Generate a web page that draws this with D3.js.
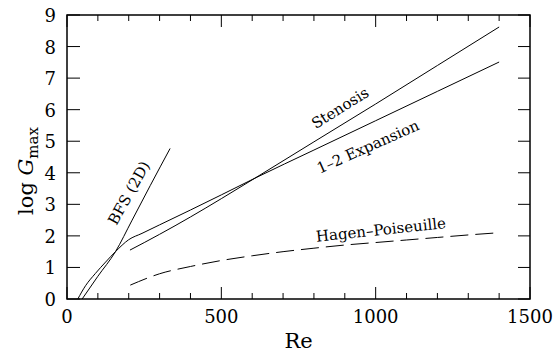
<!DOCTYPE html>
<html><head><meta charset="utf-8">
<script src="https://cdn.jsdelivr.net/npm/d3@7"></script>
<style>body{margin:0;background:#fff}svg{display:block}text{font-family:"DejaVu Serif",serif;fill:#000}</style>
</head><body><svg id="c" width="555" height="356"></svg>
<script>
// Data
const bfsRe   = [49, 100, 157, 211, 270, 334];
const bfsG    = [0, 0.72, 1.5, 2.5, 3.6, 4.77];
const expRe   = [35, 60, 92, 125, 157, 200, 243, 300, 400, 500, 609, 800, 1000, 1200, 1400];
const expG    = [0, 0.42, 0.81, 1.17, 1.5, 1.88, 2.08, 2.35, 2.82, 3.3, 3.83, 4.72, 5.65, 6.58, 7.51];
const stenRe  = [204, 300, 400, 500, 609, 800, 1000, 1200, 1400];
const stenG   = [1.55, 2.05, 2.6, 3.18, 3.83, 4.98, 6.18, 7.4, 8.62];
const hpRe    = [205, 300, 400, 500, 600, 700, 800, 900, 1000, 1100, 1200, 1300, 1400];
const hpG     = [0.44, 0.8, 1.03, 1.22, 1.37, 1.5, 1.61, 1.71, 1.79, 1.87, 1.95, 2.03, 2.1];
const xTicks  = [0, 500, 1000, 1500];
const yTicks  = [0, 1, 2, 3, 4, 5, 6, 7, 8, 9];
const labels  = ["BFS (2D)", "Stenosis", "1\u20132 Expansion", "Hagen\u2013Poiseuille"];
const labelRe = [201, 885, 975, 1017];
const labelG  = [3.36, 6.05, 4.82, 2.19];
const labelAngle = [-61, -32, -24, -6];

const W = 555, H = 356, m = {l: 67, r: 25, t: 15, b: 57};
const svg = d3.select("#c");
const x = d3.scaleLinear().domain([0, 1500]).range([m.l, W - m.r]);
const y = d3.scaleLinear().domain([0, 9]).range([H - m.b, m.t]);

// Frame
svg.append("rect").attr("x", m.l).attr("y", m.t)
  .attr("width", W - m.r - m.l).attr("height", H - m.b - m.t)
  .attr("fill", "none").attr("stroke", "#000").attr("stroke-width", 1.5);

// ticks
const minorX = d3.range(0, 1501, 100);
const g = svg.append("g").attr("stroke", "#000").attr("stroke-width", 1);
minorX.forEach(v => {
  const len = v % 500 === 0 ? 12 : 6;
  g.append("line").attr("x1", x(v)).attr("x2", x(v)).attr("y1", y(0)).attr("y2", y(0) - len);
  g.append("line").attr("x1", x(v)).attr("x2", x(v)).attr("y1", y(9)).attr("y2", y(9) + len);
});
yTicks.forEach(v => {
  g.append("line").attr("x1", x(0)).attr("x2", x(0) + 13).attr("y1", y(v)).attr("y2", y(v));
  g.append("line").attr("x1", x(1500)).attr("x2", x(1500) - 12).attr("y1", y(v)).attr("y2", y(v));
});

// tick labels
svg.append("g").selectAll("text").data(xTicks).join("text")
  .attr("x", d => x(d)).attr("y", y(0) + 24).attr("text-anchor", "middle")
  .attr("font-size", 18).text(d => d);
svg.append("g").selectAll("text").data(yTicks).join("text")
  .attr("x", x(0) - 11).attr("y", d => y(d) + 7).attr("text-anchor", "end")
  .attr("font-size", 18).text(d => d);

// axis titles
svg.append("text").attr("x", (x(0) + x(1500)) / 2).attr("y", 348)
  .attr("text-anchor", "middle").attr("font-size", 21).text("Re");
const yl = svg.append("text").attr("transform", "translate(33,171) rotate(-90)")
  .attr("text-anchor", "middle").attr("font-size", 21);
yl.append("tspan").text("log ");
yl.append("tspan").attr("font-style", "italic").text("G");
yl.append("tspan").attr("font-size", 15).attr("dy", 5).text("max");

// curves
const line = d3.line().x(d => x(d[0])).y(d => y(d[1])).curve(d3.curveMonotoneX);
const series = [
  [bfsRe, bfsG, null], [expRe, expG, null], [stenRe, stenG, null], [hpRe, hpG, "18,7"]
];
series.forEach(([re, gv, dash]) => {
  svg.append("path").datum(re.map((r, i) => [r, gv[i]]))
    .attr("d", line).attr("fill", "none").attr("stroke", "#000").attr("stroke-width", 1)
    .attr("stroke-dasharray", dash);
});

// curve labels
labels.forEach((t, i) => {
  svg.append("text").attr("transform", `translate(${x(labelRe[i])},${y(labelG[i])}) rotate(${labelAngle[i]})`)
    .attr("text-anchor", "middle").attr("dominant-baseline", "central")
    .attr("font-size", 15).text(t);
});
</script></body></html>
